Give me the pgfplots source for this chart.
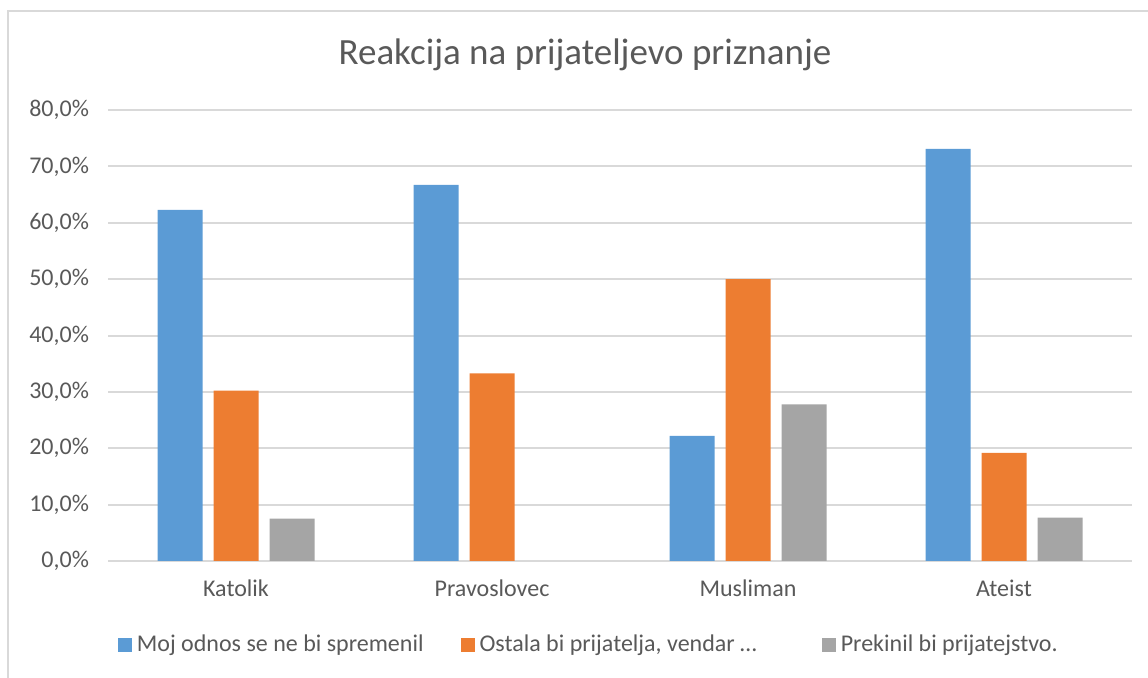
\documentclass[border=0pt]{standalone}
\usepackage{fontspec}
\setmainfont{Carlito}
\usepackage{pgfplots}
\pgfplotsset{compat=1.18}

\definecolor{cblue}{HTML}{5B9BD5}
\definecolor{corange}{HTML}{ED7D31}
\definecolor{cgray}{HTML}{A5A5A5}
\definecolor{ctext}{HTML}{595959}
\definecolor{cgrid}{HTML}{D9D9D9}

% categories at 0..3: Katolik, Pravoslovec, Musliman, Ateist
\pgfplotstableread{
x  y
0  62.3
1  66.7
2  22.2
3  73.1
}\odnos
\pgfplotstableread{
x  y
0  30.2
1  33.3
2  50.0
3  19.2
}\ostala
\pgfplotstableread{
x  y
0  7.5
2  27.8
3  7.7
}\prekinil

\begin{document}
\begin{tikzpicture}
\useasboundingbox (0,0) rectangle (574pt,339pt);
% chart frame (only top and left edges visible)
\draw[cgrid, line width=1pt] (574pt,333.5pt) -- (4pt,333.5pt) -- (4pt,0pt);
\node[ctext, font=\fontsize{18.5}{22}\selectfont] at (292.5pt,311.5pt) {Reakcija na prijateljevo priznanje};

\begin{axis}[
  at={(54pt,58.5pt)}, anchor=south west,
  scale only axis,
  width=512pt, height=225.5pt,
  ybar=5.5pt, bar width=22.5pt,
  xmin=-0.5, xmax=3.5,
  ymin=0, ymax=80,
  xtick=data,
  xticklabels={Katolik,Pravoslovec,Musliman,Ateist},
  ytick={0,10,...,80},
  yticklabel={\pgfmathprintnumber[fixed,fixed zerofill,precision=1,use comma]{\tick}\%},
  /pgf/number format/assume math mode=true,
  major tick length=0pt,
  axis line style={draw=none},
  ymajorgrids,
  major grid style={cgrid, line width=1pt},
  tick label style={ctext, font=\fontsize{12}{14}\selectfont},
  yticklabel style={xshift=-6pt},
  xticklabel style={yshift=-6pt},
  legend style={at={(0.471,-0.186)}, anchor=center, draw=none, fill=none,
    legend columns=3, font=\fontsize{12}{14}\selectfont, text=ctext,
    /tikz/every even column/.append style={column sep=16pt},
    nodes={inner xsep=2.5pt}},
  legend image code/.code={\fill[#1] (0pt,-3.5pt) rectangle (7pt,3.5pt);},
]
\addplot[fill=cblue, draw=none] table {\odnos};
\addlegendentry{Moj odnos se ne bi spremenil}
\addplot[fill=corange, draw=none] table {\ostala};
\addlegendentry{Ostala bi prijatelja, vendar …\kern14pt\null}
\addplot[fill=cgray, draw=none] table {\prekinil};
\addlegendentry{Prekinil bi prijatejstvo.}
\end{axis}
\end{tikzpicture}
\end{document}
